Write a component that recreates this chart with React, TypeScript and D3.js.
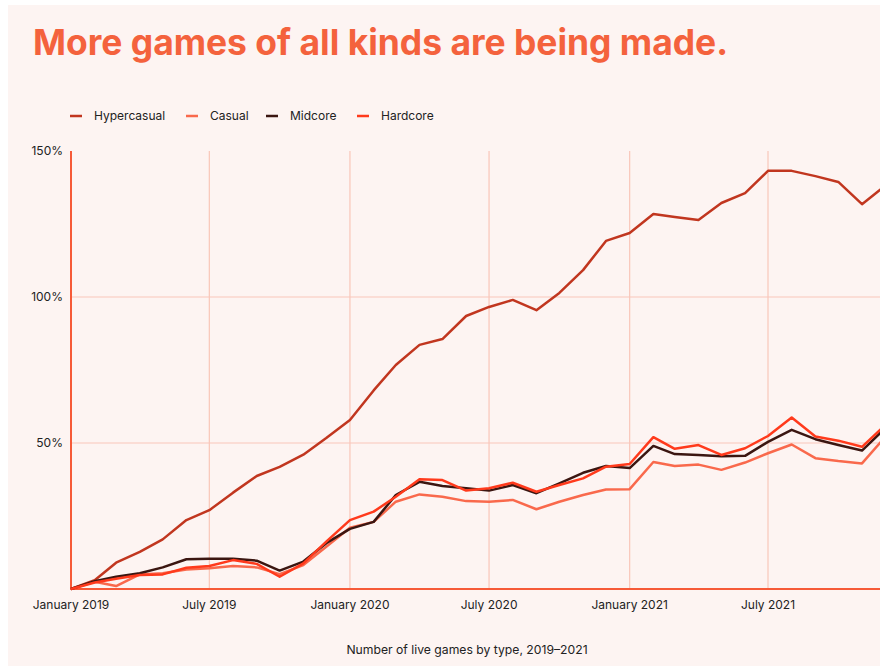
import React from "react";
import * as d3 from "d3";

const months: string[] = [
  "2019-01","2019-02","2019-03","2019-04","2019-05","2019-06","2019-07","2019-08","2019-09","2019-10","2019-11","2019-12",
  "2020-01","2020-02","2020-03","2020-04","2020-05","2020-06","2020-07","2020-08","2020-09","2020-10","2020-11","2020-12",
  "2021-01","2021-02","2021-03","2021-04","2021-05","2021-06","2021-07","2021-08","2021-09","2021-10","2021-11","2021-12",
];

const hypercasual = [0, 3, 9, 12.7, 17, 23.6, 27, 33, 38.7, 41.8, 46, 51.7,
  57.9, 68, 76.7, 83.6, 85.6, 93.5, 96.6, 99, 95.5, 101.4, 109.2, 119.2,
  121.9, 128.4, 127.4, 126.4, 132.2, 135.6, 143.2, 143.2, 141.4, 139.4, 131.8, 138];
const casual = [0, 2.5, 1.0, 5.0, 5.4, 6.7, 7.1, 7.9, 7.4, 5.1, 8.2, 14.5,
  21.0, 23.0, 29.9, 32.4, 31.6, 30.1, 29.9, 30.5, 27.3, 29.9, 32.2, 34.1,
  34.2, 43.5, 42.1, 42.6, 40.8, 43.3, 46.5, 49.5, 44.8, 43.8, 43.0, 52];
const midcore = [0, 2.7, 4.2, 5.4, 7.4, 10.2, 10.4, 10.4, 9.7, 6.3, 9.4, 15.7,
  20.6, 23.0, 32.2, 36.7, 35.3, 34.5, 33.7, 35.6, 32.8, 36.2, 39.8, 42.1,
  41.4, 49.0, 46.2, 45.9, 45.5, 45.6, 50.4, 54.5, 51.3, 49.3, 47.4, 55];
const hardcore = [0, 2.2, 3.5, 4.8, 5.0, 7.3, 7.9, 9.9, 8.6, 4.2, 8.8, 16.2,
  23.6, 26.5, 31.6, 37.6, 37.3, 33.7, 34.5, 36.4, 33.3, 35.6, 37.9, 41.9,
  42.8, 52.0, 48.0, 49.3, 45.9, 48.2, 52.4, 58.7, 52.2, 50.8, 48.7, 56];

const seriesNames = ["Hypercasual", "Casual", "Midcore", "Hardcore"];
const seriesColors = ["#c1361f", "#f9694c", "#3b1611", "#ff3a1c"];
const seriesValues = [hypercasual, casual, midcore, hardcore];

const yTicks = [50, 100, 150];
const xTickLabels = ["January 2019", "July 2019", "January 2020", "July 2020", "January 2021", "July 2021"];
const xTickDates = ["2019-01", "2019-07", "2020-01", "2020-07", "2021-01", "2021-07"];

const parse = d3.timeParse("%Y-%m");
const FONT = "Inter, 'Noto Sans', sans-serif";

export default function App() {
  const x = d3.scaleTime()
    .domain([parse("2019-01")!, parse("2021-07")!])
    .range([71, 768]);
  const y = d3.scaleLinear().domain([0, 150]).range([589, 151]);
  const dates = months.map((m) => parse(m)!);
  const line = d3.line<number>()
    .x((_, i) => x(dates[i]))
    .y((v) => y(v));

  const legendX = [70, 186, 266, 357];

  return (
    <div style={{ position: "absolute", left: 0, top: 0, width: 880, height: 666, overflow: "hidden" }}>
      <svg width={1000} height={666} style={{ display: "block" }}>
        <rect x={8} y={5} width={992} height={661} fill="#fdf4f2" />
        <text x={33} y={55} fill="#f4623d" fontFamily={FONT} fontWeight={700} fontSize={35.5}
          textLength={695} lengthAdjust="spacingAndGlyphs">
          More games of all kinds are being made.
        </text>
        {seriesNames.map((n, i) => (
          <g key={n}>
            <line x1={legendX[i]} x2={legendX[i] + 12} y1={116} y2={116} stroke={seriesColors[i]} strokeWidth={2.5} />
            <text x={legendX[i] + 24} y={116} dy="0.35em" fontFamily={FONT} fontSize={12} fill="#222">{n}</text>
          </g>
        ))}
        {/* gridlines */}
        {xTickDates.slice(1).map((d) => (
          <line key={d} x1={x(parse(d)!)} x2={x(parse(d)!)} y1={151} y2={589} stroke="#f9c6b9" strokeWidth={1.2} />
        ))}
        {yTicks.slice(0, 2).map((t) => (
          <line key={t} x1={71} x2={1000} y1={y(t)} y2={y(t)} stroke="#f9c6b9" strokeWidth={1.2} />
        ))}
        {/* axes */}
        <line x1={71} x2={71} y1={151} y2={589} stroke="#f65a38" strokeWidth={2} />
        <line x1={70} x2={1000} y1={589} y2={589} stroke="#f65a38" strokeWidth={2} />
        {yTicks.map((t) => (
          <text key={t} x={63} y={y(t)} dy="0.35em" textAnchor="end" fontFamily={FONT} fontSize={12} fill="#222">{t}%</text>
        ))}
        {xTickDates.map((d, i) => (
          <text key={d} x={x(parse(d)!)} y={605} dy="0.35em" textAnchor="middle" fontFamily={FONT} fontSize={12} fill="#222">{xTickLabels[i]}</text>
        ))}
        {/* lines */}
        {seriesValues.map((vals, i) => (
          <path key={i} d={line(vals)!} fill="none" stroke={seriesColors[i]} strokeWidth={2.5} strokeLinejoin="round" />
        ))}
        <text x={467} y={650} dy="0.35em" textAnchor="middle" fontFamily={FONT} fontSize={12.2} fill="#222">
          Number of live games by type, 2019–2021
        </text>
      </svg>
    </div>
  );
}
